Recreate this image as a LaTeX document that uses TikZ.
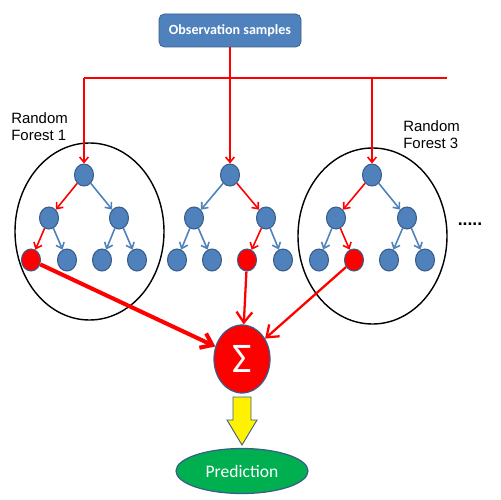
\documentclass[tikz,border=0pt]{standalone}
\usepackage{fontspec}
\setmainfont{Liberation Sans}
\newfontfamily\calibri{Carlito}
\usetikzlibrary{shapes.geometric,arrows.meta}
\definecolor{nodeblue}{HTML}{4F81BD}
\definecolor{edgeblue}{HTML}{385D8A}
\definecolor{predgreen}{HTML}{00B050}
\tikzset{
	leaf/.style={ellipse,fill=nodeblue,draw=edgeblue,line width=0.6pt,minimum width=19*0.02cm,minimum height=22*0.02cm,inner sep=0pt},
	hit/.style={leaf,fill=red},
	blue arrow/.style={-{Straight Barb[length=3pt,width=5pt]},nodeblue,line width=0.9pt},
	red arrow/.style={-{Straight Barb[length=3pt,width=5pt]},red,line width=0.9pt},
	vote/.style={-{Straight Barb[length=6pt,width=9pt]},red,line width=1.3pt}
}
\begin{document}
\begin{tikzpicture}[x=0.02cm,y=-0.02cm]
	\useasboundingbox (0,0) rectangle (500,500);
	% input
	\node[draw=edgeblue,fill=nodeblue,rounded corners=3pt,minimum width=142*0.02cm,minimum height=33*0.02cm,text=white,font=\calibri\bfseries\fontsize{8}{9}\selectfont] (obs) at (230,30.5) {Observation samples};
	\coordinate (bl) at (84,78);
	\coordinate (bm) at (230,78);
	\coordinate (bt) at (372,78);
	\coordinate (br) at (447,78);
	\draw[red,line width=0.9pt] (obs.south) -- (bm);
	\draw[red,line width=0.9pt] (bl) -- (br);
	% forests
	\draw[line width=0.8pt] (89.5,231.5) ellipse (74.5 and 88.5);
	\draw[line width=0.8pt] (372.5,236) ellipse (74.5 and 88);
	\node[align=left,font=\fontsize{8.5}{10}\selectfont,anchor=north west,inner sep=0pt] (lab1) at (11,112) {Random\\Forest 1};
	\node[align=left,font=\fontsize{8.5}{10}\selectfont,anchor=north west,inner sep=0pt] (lab3) at (403,120) {Random\\Forest 3};
	\node[font=\bfseries] (dots) at (470,224) {.....};
	% tree 1
	\node[leaf] (a0) at (84,175) {};
	\node[leaf] (a1) at (49,218) {};
	\node[leaf] (a2) at (119,218) {};
	\node[hit] (a3) at (31,260) {};
	\node[leaf] (a4) at (67,260) {};
	\node[leaf] (a5) at (102,260) {};
	\node[leaf] (a6) at (137,260) {};
	% tree 2
	\node[leaf] (b0) at (230,175) {};
	\node[leaf] (b1) at (194,218) {};
	\node[leaf] (b2) at (266,218) {};
	\node[leaf] (b3) at (177,260) {};
	\node[leaf] (b4) at (212,260) {};
	\node[hit] (b5) at (247,260) {};
	\node[leaf] (b6) at (283,260) {};
	% tree 3
	\node[leaf] (c0) at (372,175) {};
	\node[leaf] (c1) at (336,218) {};
	\node[leaf] (c2) at (407,218) {};
	\node[leaf] (c3) at (319,260) {};
	\node[hit] (c4) at (354,260) {};
	\node[leaf] (c5) at (389,260) {};
	\node[leaf] (c6) at (425,260) {};
	\draw[red arrow] (bl) -- (a0);
	\draw[red arrow] (bm) -- (b0);
	\draw[red arrow] (bt) -- (c0);
	\draw[red arrow] (a0) -- (a1);
	\draw[blue arrow] (a0) -- (a2);
	\draw[red arrow] (a1) -- (a3);
	\draw[blue arrow] (a1) -- (a4);
	\draw[blue arrow] (a2) -- (a5);
	\draw[blue arrow] (a2) -- (a6);
	\draw[blue arrow] (b0) -- (b1);
	\draw[red arrow] (b0) -- (b2);
	\draw[blue arrow] (b1) -- (b3);
	\draw[blue arrow] (b1) -- (b4);
	\draw[red arrow] (b2) -- (b5);
	\draw[blue arrow] (b2) -- (b6);
	\draw[red arrow] (c0) -- (c1);
	\draw[blue arrow] (c0) -- (c2);
	\draw[blue arrow] (c1) -- (c3);
	\draw[red arrow] (c1) -- (c4);
	\draw[blue arrow] (c2) -- (c5);
	\draw[blue arrow] (c2) -- (c6);
	% combine
	\node[ellipse,fill=red,draw=edgeblue,line width=0.7pt,minimum width=56*0.02cm,minimum height=68*0.02cm,inner sep=0pt,text=white,font=\calibri\fontsize{24}{26}\selectfont] (sum) at (242,359) {Σ};
	\draw[vote,line width=2.3pt] (a3) -- (sum);
	\draw[vote] (b5) -- (sum);
	\draw[vote] (c4) -- (sum);
	\draw[fill=yellow,draw=edgeblue,line width=0.5pt] (233,397) -- (251,397) -- (251,420) -- (257,420) -- (242,445) -- (227,420) -- (233,420) -- cycle;
	\node[ellipse,fill=predgreen,draw=edgeblue,line width=0.7pt,minimum width=132*0.02cm,minimum height=45*0.02cm,inner sep=0pt,text=white,font=\calibri\fontsize{10}{12}\selectfont] (pred) at (242,471) {Prediction};
\end{tikzpicture}
\end{document}
